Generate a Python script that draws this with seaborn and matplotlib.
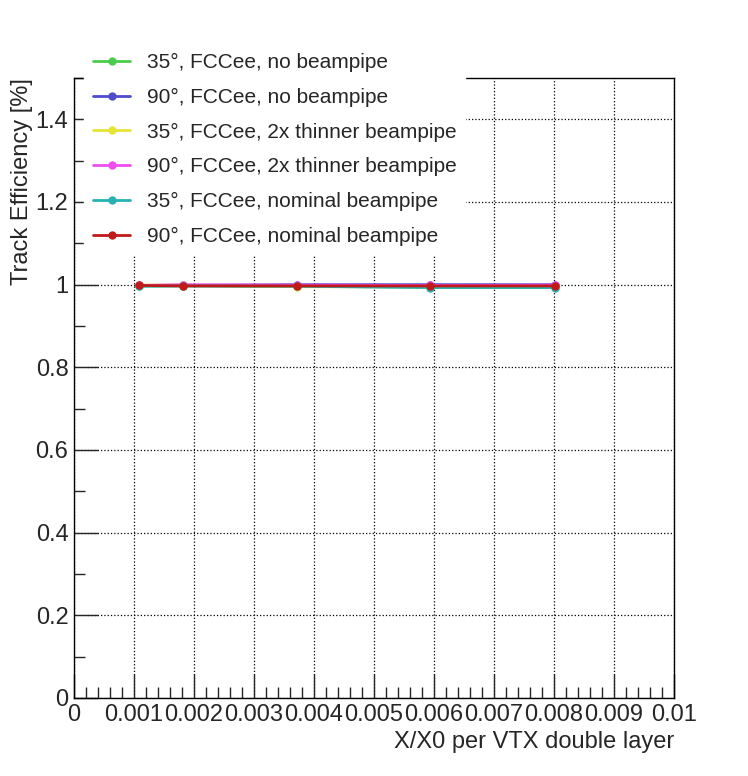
import numpy as np
import pandas as pd
import seaborn as sns
import matplotlib.pyplot as plt
from matplotlib.ticker import MultipleLocator

sns.set_style("white")
plt.rcParams['font.family'] = ['Liberation Sans', 'DejaVu Sans']

# ===============================
# data
# ===============================
x_vals = [0.00108, 0.00182, 0.00372, 0.00593, 0.00802]
labels = ["35°, FCCee, no beampipe", "90°, FCCee, no beampipe",
          "35°, FCCee, 2x thinner beampipe", "90°, FCCee, 2x thinner beampipe",
          "35°, FCCee, nominal beampipe", "90°, FCCee, nominal beampipe"]
eff_35_nobp = [0.997, 0.997, 0.996, 0.994, 0.994]
eff_90_nobp = [0.998, 0.998, 1.000, 1.000, 1.000]
eff_35_thin = [0.999, 0.999, 0.995, 0.995, 0.995]
eff_90_thin = [0.998, 1.000, 0.999, 0.998, 0.999]
eff_35_nom = [0.996, 0.997, 0.996, 0.993, 0.993]
eff_90_nom = [0.998, 0.997, 0.997, 0.997, 0.997]
colors = ["#4ccc4c", "#4c4ccc", "#e5e533", "#f04cf0", "#26b2b2", "#c01a1a"]

series = [eff_35_nobp, eff_90_nobp, eff_35_thin, eff_90_thin, eff_35_nom, eff_90_nom]
df = pd.concat([pd.DataFrame({"x": x_vals, "eff": s, "label": l})
                for s, l in zip(series, labels)])

fig = plt.figure(figsize=(7.48, 7.76), dpi=100)
ax = fig.add_axes([74 / 748, 1 - 698 / 776, 600 / 748, 620 / 776])

sns.lineplot(data=df, x="x", y="eff", hue="label", hue_order=labels,
             palette=colors, marker="o", markersize=6, markeredgewidth=0,
             linewidth=2, ax=ax, legend=True)

ax.set_xlim(0, 0.01)
ax.set_ylim(0, 1.5)
ax.xaxis.set_minor_locator(MultipleLocator(0.0002))
ax.yaxis.set_minor_locator(MultipleLocator(0.1))
ax.set_xticks(np.arange(0, 0.0101, 0.001))
ax.set_xticklabels(["0"] + [f"{v:.3f}" for v in np.arange(0.001, 0.0101, 0.001)[:-1]] + ["0.01"])
ax.set_yticks(np.arange(0, 1.41, 0.2))
ax.set_yticklabels(["0", "0.2", "0.4", "0.6", "0.8", "1", "1.2", "1.4"])
ax.tick_params(which="major", direction="in", length=17, width=1, labelsize=17, pad=4)
ax.tick_params(which="minor", direction="in", length=8, width=1)
ax.tick_params(top=False, right=False, bottom=True, left=True, which="both")
ax.grid(True, which="major", linestyle=":", color="black", linewidth=0.9)
for sp in ax.spines.values():
    sp.set_color("black")
    sp.set_linewidth(1)

ax.set_xlabel("X/X0 per VTX double layer", fontsize=17, loc="right", labelpad=4)
ax.set_ylabel("Track Efficiency [%]", fontsize=17, loc="top", labelpad=2)
ax.yaxis.label.set_zorder(10)

leg = ax.legend(loc="upper left", bbox_to_anchor=(0.0, 1.07), frameon=True,
                fontsize=15, labelspacing=0.75, handlelength=1.8,
                borderpad=0.4, fancybox=False)
leg.get_frame().set_edgecolor("white")
leg.get_frame().set_facecolor("white")
leg.get_frame().set_alpha(1)
leg.set_zorder(5)

fig.savefig("out.png", dpi=100, facecolor="white")
